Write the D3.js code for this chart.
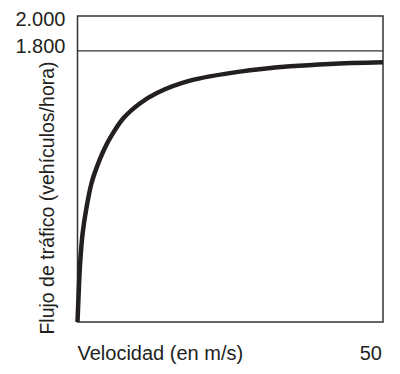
<!DOCTYPE html>
<html lang="es">
  <head>
    <meta charset="UTF-8" />
    <title></title>
    <script src="https://d3js.org/d3.v7.min.js"></script>
    <style>
      body { margin: 0; background: #fff; }
      text { font-family: 'Liberation Sans', Arial, sans-serif; fill: #231f20; }
    </style>
  </head>
  <body>
    <svg id="chart" width="400" height="374"></svg>
    <script>
      // Data
      const speed = [0, 0.15, 0.4, 0.85, 1.5, 2.3, 3.1, 4.2, 5.3, 7.5, 10.2, 13, 18.4, 26.6, 34.8, 41.3, 50]
      const flow = [250, 380, 570, 760, 910, 1045, 1130, 1225, 1300, 1415, 1500, 1560, 1630, 1682, 1712, 1726, 1735]
      const yTicks = [2000, 1800]
      const xTicks = [50]
      const xLabel = 'Velocidad (en m/s)'
      const yLabel = 'Flujo de tráfico (vehículos/hora)'

      const svg = d3.select('#chart')
      const margin = { top: 16, right: 17, bottom: 52, left: 77.5 }
      const width = +svg.attr('width') - margin.left - margin.right
      const height = +svg.attr('height') - margin.top - margin.bottom

      const g = svg.append('g').attr('transform', `translate(${margin.left},${margin.top})`)

      const x = d3.scaleLinear().domain([0, 50]).range([0, width])
      const y = d3.scaleLinear().domain([250, 2000]).range([height, 0])

      const fmt = d3.formatLocale({ decimal: ',', thousands: '.', grouping: [3], currency: ['', ''] }).format(',.0f')

      // reference line at 1800
      g.append('line')
        .attr('x1', 0).attr('x2', width)
        .attr('y1', y(1800)).attr('y2', y(1800))
        .attr('stroke', '#333').attr('stroke-width', 1.2)

      // frame
      g.append('rect')
        .attr('width', width).attr('height', height)
        .attr('fill', 'none').attr('stroke', '#333').attr('stroke-width', 1.5)

      // curve
      const line = d3.line()
        .x((d, i) => x(speed[i]))
        .y(d => y(d))
        .curve(d3.curveCatmullRom.alpha(0.5))

      g.append('path')
        .datum(flow)
        .attr('d', line)
        .attr('fill', 'none')
        .attr('stroke', '#231f20')
        .attr('stroke-width', 4.5)

      // y tick labels
      g.selectAll('.ytick')
        .data(yTicks)
        .join('text')
        .attr('class', 'ytick')
        .attr('x', -12)
        .attr('y', d => y(d) + (d === 2000 ? 10 : 2))
        .attr('text-anchor', 'end')
        .style('font-size', '20px')
        .text(d => fmt(d))

      // x tick label
      g.selectAll('.xtick')
        .data(xTicks)
        .join('text')
        .attr('class', 'xtick')
        .attr('x', d => x(d) - 1)
        .attr('y', height + 38)
        .attr('text-anchor', 'end')
        .style('font-size', '20px')
        .text(d => d)

      // axis titles
      g.append('text')
        .attr('x', 0)
        .attr('y', height + 38)
        .style('font-size', '20px')
        .text(xLabel)

      g.append('text')
        .attr('transform', `translate(-24,${height / 2 + 29}) rotate(-90)`)
        .attr('text-anchor', 'middle')
        .style('font-size', '19.5px')
        .text(yLabel)
    </script>
  </body>
</html>
